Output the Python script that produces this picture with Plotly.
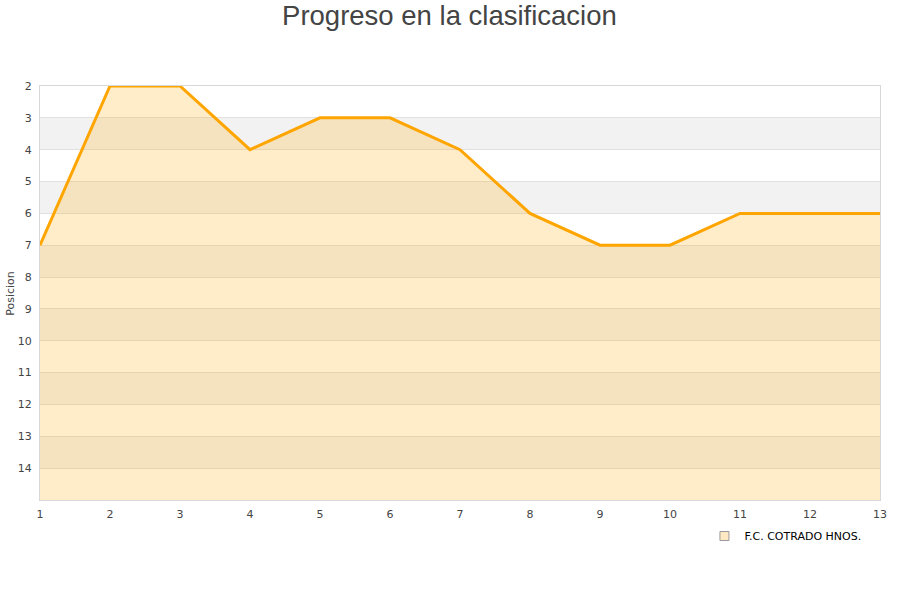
import plotly.graph_objects as go

jornadas = list(range(1, 14))
posiciones = [7, 2, 2, 4, 3, 3, 4, 6, 7, 7, 6, 6, 6]
fondo = [15] * len(jornadas)
y_ticks = list(range(2, 15))
bandas = [(3, 4), (5, 6), (7, 8), (9, 10), (11, 12), (13, 14)]
equipo = "F.C. COTRADO HNOS."

fig = go.Figure()
fig.add_trace(go.Scatter(x=jornadas, y=fondo, mode="lines", line=dict(width=0),
                         showlegend=False, hoverinfo="skip"))
fig.add_trace(go.Scatter(x=jornadas, y=posiciones, mode="lines", fill="tonexty",
                         fillcolor="rgba(255,173,20,0.23)",
                         line=dict(color="#ffa500", width=3), showlegend=False,
                         name=equipo))
fig.add_trace(go.Scatter(x=[None], y=[None], mode="markers", name=equipo,
                         marker=dict(symbol="square", size=9, color="#ffe9c3",
                                     line=dict(color="#999999", width=1))))

for a, b in bandas:
    fig.add_shape(type="rect", xref="paper", x0=0, x1=1, yref="y", y0=a, y1=b,
                  fillcolor="#f2f2f2", line=dict(width=0), layer="below")

fig.add_annotation(text="Posicion", xref="paper", yref="paper", x=-0.036, y=0.5,
                   xanchor="center", yanchor="middle", textangle=-90, showarrow=False,
                   font=dict(family="DejaVu Sans", size=11, color="#444444"))

fig.update_layout(
    width=900, height=600,
    margin=dict(l=40, r=20, t=86, b=100, autoexpand=False),
    paper_bgcolor="white", plot_bgcolor="white",
    title=dict(text="Progreso en la clasificacion", x=0.4994, xanchor="center",
               xref="container", yref="container", y=0.975, yanchor="middle",
               font=dict(family="Liberation Sans, Arial", size=27.5, color="#444444")),
    font=dict(family="DejaVu Sans", size=11, color="#444444"),
    showlegend=True,
    legend=dict(x=0.791, xanchor="left", y=-0.087, yanchor="middle",
                font=dict(family="DejaVu Sans", size=11, color="#000000"),
                bgcolor="rgba(0,0,0,0)"),
    xaxis=dict(range=[1, 13], tickvals=jornadas, showgrid=False, zeroline=False,
               showline=True, linecolor="#d8d8d8", mirror=True, ticks="",
               ticklabelstandoff=4,
               automargin=False, tickfont=dict(size=11, color="#444444")),
    yaxis=dict(range=[15, 2], tickvals=y_ticks, showgrid=True, gridcolor="#e0e0e0",
               zeroline=False, showline=True, linecolor="#d8d8d8", mirror=True,
               ticks="", ticklabelstandoff=5,
               automargin=False, tickfont=dict(size=11, color="#444444")),
)

fig.write_html("out.html", config={"displayModeBar": False},
               post_script="document.body.style.margin='0px';")
